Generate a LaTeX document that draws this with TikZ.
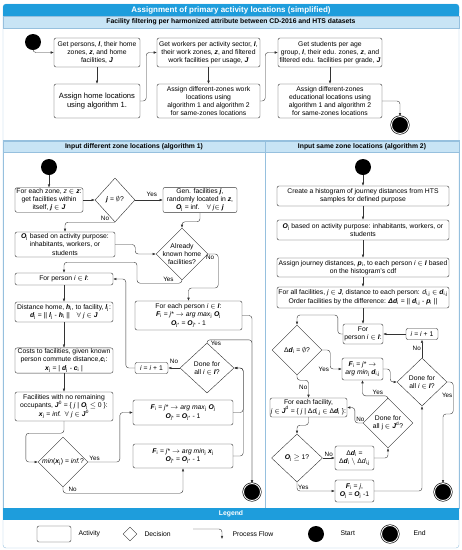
\documentclass[tikz,border=0pt]{standalone}
\usepackage{fontspec}
\setmainfont{Liberation Sans}
\usepackage{amssymb}
\usetikzlibrary{calc,arrows.meta,shapes.geometric,positioning}
\definecolor{barblue}{RGB}{30,157,220}
\definecolor{headblue}{RGB}{200,228,245}
\definecolor{lineblue}{RGB}{150,192,222}
\newcommand{\vb}[1]{\textbf{\textit{#1}}}
\newcommand{\sub}[1]{\textsubscript{#1}}

\begin{document}
\begin{tikzpicture}[x=1pt,y=-1pt,
  >={Latex[length=3.2pt,width=2.6pt]},
  every node/.style={font=\fontsize{6.8}{8.1}\selectfont},
  act/.style={draw=black!80,rounded corners=2pt,align=center,inner sep=1pt},
  dec/.style={draw=black!80,diamond,aspect=1,align=center,inner sep=-3pt},
  flow/.style={->,draw=black!80,rounded corners=3pt},
  lbl/.style={font=\fontsize{6.3}{7}\selectfont,inner sep=1pt},
  startdot/.style={circle,fill=black,minimum size=16pt,inner sep=0pt},
  enddot/.style={circle,fill=black,draw=black,double=white,double distance=0.9pt,
    line width=0.6pt,minimum size=17pt,inner sep=0pt},
  bar/.style={fill=barblue,text=white,inner sep=0pt,font=\bfseries\fontsize{8}{9}\selectfont},
  head/.style={fill=headblue,draw=lineblue,inner sep=0pt,font=\bfseries\fontsize{6.8}{8}\selectfont}]
  \useasboundingbox (0,0) rectangle (462,550);
  \draw[lineblue,rounded corners=3pt] (3,4) rectangle (459,548);
  \fill[barblue,rounded corners=3pt] (3,4) rectangle (459,16);
  \fill[barblue] (3,10) rectangle (459,16);
  \node[bar] (title) at (231,10) {Assignment of primary activity locations (simplified)};
  \node[head,minimum width=456pt,minimum height=12pt] (subtitle) at (231,22)
  {Facility filtering per harmonized attribute between CD-2016 and HTS datasets};
  \draw[lineblue] (3,140) rectangle (265,508);
  \draw[lineblue] (265,140) rectangle (459,508);
  \node[head,minimum width=262pt,minimum height=11pt] (alg1) at (134,146.5)
  {Input different zone locations (algorithm 1)};
  \node[head,minimum width=194pt,minimum height=11pt] (alg2) at (362,146.5)
  {Input same zone locations (algorithm 2)};

  \node[startdot] (s0) at (33,42) {};
  \node[act,minimum width=86pt,minimum height=29pt] (persons) at (97,52.5)
  {Get persons, \vb{I}, their home\\zones, \vb{z}, and home\\facilities, \vb{J}};
  \node[act,minimum width=86pt,minimum height=34pt,font=\fontsize{7.6}{9.3}\selectfont]
  (homes) at (97,101) {Assign home locations\\using algorithm 1.};
  \node[act,minimum width=103pt,minimum height=29pt] (workers) at (208.5,52.5)
  {Get workers per activity sector, \vb{I},\\their work zones, \vb{z}, and filtered\\work facilities per usage, \vb{J}};
  \node[act,minimum width=103pt,minimum height=34pt] (works) at (208.5,101)
  {Assign different-zones work\\locations using\\algorithm 1 and algorithm 2\\for same-zones locations};
  \node[act,minimum width=104pt,minimum height=29pt] (students) at (330,52.5)
  {Get students per age\\group, \vb{I}, their edu. zones, \vb{z}, and\\filtered edu. facilities per grade, \vb{J}};
  \node[act,minimum width=104pt,minimum height=34pt] (edus) at (330,101)
  {Assign different-zones\\educational locations using\\algorithm 1 and algorithm 2\\for same-zones locations};
  \node[enddot] (e0) at (400,125) {};
  \draw[flow] (s0) |- (persons);
  \draw[flow] (persons) -- (homes);
  \draw[flow] (homes.east) -- ++(6,0) |- (workers.west);
  \draw[flow] (workers) -- (works);
  \draw[flow] (works.east) -- ++(5,0) |- (students.west);
  \draw[flow] (students) -- (edus);
  \draw[flow] (edus.east) -| (e0.north);

  \node[startdot] (s1) at (49,167) {};
  \node[act,minimum width=68pt,minimum height=24pt] (zone) at (49,200)
  {For each zone, \textit{z} $\in$ \vb{z}:\\get facilities within\\itself, \vb{j} $\in$ \vb{J}};
  \node[dec,minimum width=40pt,minimum height=44pt] (isnull) at (115,200)
  {\vb{j} = $\emptyset$?};
  \node[act,minimum width=74pt,minimum height=24pt] (gen) at (200,200)
  {Gen. facilities \vb{j},\\randomly located in \vb{z},\\\vb{O}\sub{j} = inf.\quad $\forall$ \textit{j}$\in$ \vb{j}};
  \node[act,minimum width=100pt,minimum height=25pt] (purpose) at (65,244.5)
  {\vb{O}\sub{j} based on activity purpose:\\inhabitants, workers, or\\students};
  \node[dec,minimum width=52pt,minimum height=52pt] (known) at (182,254)
  {Already\\known home\\facilities?};
  \node[act,minimum width=98pt,minimum height=12pt] (person) at (64,279)
  {For person \textit{i} $\in$ \vb{I}:};
  \node[act,minimum width=107pt,minimum height=29pt] (eachp) at (188.5,315.5)
  {For each person \textit{i} $\in$ \vb{I}:\\\vb{F}\sub{i} = \textit{j}* $\rightarrow$ \textit{arg max}\sub{j} \vb{O}\sub{j}\\\vb{O}\sub{j*} = \vb{O}\sub{j*} - 1};
  \node[act,minimum width=98pt,minimum height=20pt] (dist) at (64,312)
  {Distance home, \vb{h}\sub{i}, to facility, \vb{l}\sub{j}:\\\vb{d}\sub{j} = || \vb{l}\sub{j} - \vb{h}\sub{i} ||\quad $\forall$ \textit{j} $\in$ \vb{J}};
  \node[act,minimum width=98pt,minimum height=25pt] (costs) at (64,360.5)
  {Costs to facilities, given known\\person commute distance,\vb{c}\sub{i}:\\\vb{x}\sub{j} = | \vb{d}\sub{j} - \vb{c}\sub{i} |};
  \node[dec,minimum width=54pt,minimum height=50pt] (done) at (207,368)
  {Done for\\all \textit{i} $\in$ \vb{I}?};
  \node[act,minimum width=33pt,minimum height=11pt] (incr) at (151.5,368)
  {\textit{i} = \textit{i} + 1};
  \node[act,minimum width=98pt,minimum height=29pt] (nofac) at (64,406.5)
  {Facilities with no remaining\\occupants, \vb{J}\textsuperscript{0} = \{ \textit{j} | \vb{O}\sub{j} $\leq$ 0 \}:\\\vb{x}\sub{j} = \textit{inf.}\enspace$\forall$ \textit{j} $\in$ \vb{J}\textsuperscript{0}};
  \node[dec,minimum width=50pt,minimum height=50pt] (mininf) at (63,462)
  {\textit{min}(\vb{x}\sub{j}) = \textit{inf.}?};
  \node[act,minimum width=100pt,minimum height=25pt] (argmax) at (183,412.5)
  {\vb{F}\sub{i} = \textit{j}* $\rightarrow$ \textit{arg max}\sub{j} \vb{O}\sub{j}\\\vb{O}\sub{j*} = \vb{O}\sub{j*} - 1};
  \node[act,minimum width=100pt,minimum height=24pt] (argmin) at (183,456)
  {\vb{F}\sub{i} = \textit{j}* $\rightarrow$ \textit{arg min}\sub{j} \vb{x}\sub{j}\\\vb{O}\sub{j*} = \vb{O}\sub{j*} - 1};
  \node[enddot] (e1) at (252,492) {};
  \draw[flow] (s1) -- (zone);
  \draw[flow] (zone) -- (isnull);
  \draw[flow] (isnull) -- (gen) node[lbl,pos=0.6,above=2pt]{Yes};
  \draw[flow] (isnull.south) -| (purpose.north) node[lbl,pos=0.1,above]{No};
  \draw[flow] (gen.south) -- ++(0,9) -| (known.north);
  \draw[flow] (purpose.east) -- ++(20,0) |- (known.west);
  \draw[flow] (known.south) -- ++(0,3) -| ++(-45,-21) node[lbl,pos=0.15,above]{Yes}
  -| (person.north);
  \draw[flow] (known.east) -| ++(10,34) node[lbl,pos=0.1,below]{No} -| (eachp.north);
  \draw[flow] (person) -- (dist);
  \draw[flow] (dist) -- (costs);
  \draw[flow] (costs) -- (nofac);
  \draw[flow] (nofac.south) -- ++(0,12) -| ($(mininf.west)+(-12,0)$) -- (mininf.west);
  \draw[flow] (mininf.east) -| ($(argmax.west)+(-13,0)$) node[lbl,pos=0.1,above]{Yes}
  -- (argmax.west);
  \draw[flow] (mininf.south) -- ++(0,6) -| (argmin.south) node[lbl,pos=0.04,above]{No};
  \draw[flow] (eachp.east) -| (e1.north);
  \draw[flow] (done.north) -- ++(0,-3) -| (e1.north) node[lbl,pos=0.1,below]{Yes};
  \draw[flow] (argmax.east) -- ++(10,0) |- (done.east);
  \draw[flow] (argmin.east) -- ++(10,0) |- (done.east);
  \draw[flow] (done.west) -- (incr.east) node[lbl,midway,above=3pt]{No};
  \draw[flow] (incr.west) -- ++(-9,0) |- (person.east);

  \node[startdot] (s2) at (363,167) {};
  \node[act,minimum width=172pt,minimum height=20pt] (hist) at (363,196)
  {Create a histogram of journey distances from HTS\\samples for defined purpose};
  \node[act,minimum width=172pt,minimum height=20pt] (purpose2) at (363,230)
  {\vb{O}\sub{j} based on activity purpose: inhabitants, workers, or\\students};
  \node[act,minimum width=172pt,minimum height=19pt] (journey) at (363,267.5)
  {Assign journey distances, \vb{p}\sub{i}, to each person \textit{i} $\in$ \vb{I} based\\on the histogram's cdf};
  \node[act,minimum width=172pt,minimum height=21pt] (allfac) at (363,297.5)
  {For all facilities, \textit{j} $\in$ \vb{J}, distance to each person: \textit{d}\sub{i,j} $\in$ \vb{d}\sub{i,j}\\Order facilities by the difference: \vb{Δd}\sub{i} = || \vb{d}\sub{i,j} - \vb{p}\sub{i} ||};
  \node[act,minimum width=40pt,minimum height=20pt] (person2) at (363,334)
  {For\\person \textit{i} $\in$ \vb{I}:};
  \node[act,minimum width=32pt,minimum height=11pt] (incr2) at (422,334)
  {\textit{i} = \textit{i} + 1};
  \node[dec,minimum width=50pt,minimum height=50pt] (dnull) at (297,350)
  {Δ\vb{d}\sub{i} = $\emptyset$?};
  \node[act,minimum width=41pt,minimum height=22pt] (argmin2) at (362.5,369)
  {\vb{F}\sub{i} = \textit{j}* $\rightarrow$\\\textit{arg min}\sub{j} \vb{d}\sub{i,j}};
  \node[dec,minimum width=50pt,minimum height=48pt] (done2) at (422,382)
  {Done for\\all \textit{i} $\in$ \vb{I}?};
  \node[act,minimum width=73pt,minimum height=19pt] (eachf) at (308.5,407.5)
  {For each facility,\\\textit{j} $\in$ \vb{J}\textsuperscript{d} = \{ \textit{j} | Δ\textit{d}\sub{i,j} $\in$ Δ\vb{d}\sub{i} \}:};
  \node[dec,minimum width=50pt,minimum height=50pt] (donej) at (388,423)
  {Done for\\all j $\in$ \vb{J}\textsuperscript{d}?};
  \node[dec,minimum width=51pt,minimum height=48pt] (occ) at (297,458)
  {\vb{O}\sub{j} $\geq$ 1?};
  \node[act,minimum width=39pt,minimum height=24pt] (drop) at (354.5,458)
  {Δ\vb{d}\sub{i} =\\Δ\vb{d}\sub{i} $\setminus$ Δ\textit{d}\sub{i,j}};
  \node[act,minimum width=39pt,minimum height=22pt] (take) at (354.5,491)
  {\vb{F}\sub{i} = \textit{j},\\\vb{O}\sub{j} = \vb{O}\sub{j} -1};
  \node[enddot] (e2) at (443,492) {};
  \draw[flow] (s2) -- (hist);
  \draw[flow] (hist) -- (purpose2);
  \draw[flow] (purpose2) -- (journey);
  \draw[flow] (journey) -- (allfac);
  \draw[flow] (allfac) -- (person2);
  \draw[flow] (incr2) -- (person2);
  \draw[flow] (person2.west) -- ++(-5,0) -- ++(0,-19) -| (dnull.north);
  \draw[flow] (dnull.east) -- ++(8,0) |- (argmin2.west) node[lbl,pos=0.5,left]{Yes};
  \draw[flow] (dnull.south) -- ++(0,5) -| (eachf.north) node[lbl,pos=0.7,left]{No};
  \draw[flow] (argmin2.east) -- ++(7,0) |- (done2.west);
  \draw[flow] (done2.north) -- (incr2.south) node[lbl,midway,left]{No};
  \draw[flow] (done2.east) -- ++(6,0) node[lbl,pos=0,below=10pt]{Yes} -- ++(0,32) -| (e2.north);
  \draw[flow] (eachf.south) -- ++(0,8) -| (occ.north);
  \draw[flow] (occ.east) -- (drop.west) node[lbl,midway,above]{No};
  \draw[flow] (occ.south) |- (take.west) node[lbl,pos=0.5,above right]{Yes};
  \draw[flow] (drop.east) -| (donej.south);
  \draw[flow] (take.east) -| (done2.south);
  \draw[flow] (donej.north) -- ++(0,-2) -| (argmin2.south) node[lbl,pos=0.2,above]{Yes};
  \draw[flow] (donej.west) -- ++(-8,0) node[lbl,pos=0.3,above]{No} |- (eachf.east);

  \node[bar,minimum width=456pt,minimum height=12pt,font=\bfseries\fontsize{6.8}{8}\selectfont]
  (legend) at (231,514) {Legend};
  \node[act,minimum width=34pt,minimum height=16pt] (lact) at (54,534) {};
  \node[anchor=west] (lacttext) at (75,534) {Activity};
  \node[dec,minimum width=14pt,minimum height=14pt] (ldec) at (130,534) {};
  \node[anchor=west] (ldectext) at (141,534) {Decision};
  \coordinate (lflowa) at (193,529);
  \coordinate (lflowb) at (222,539);
  \draw[flow] (lflowa) -| (lflowb);
  \node[anchor=west] (lflowtext) at (229,534) {Process Flow};
  \node[startdot] (lstart) at (316,534) {};
  \node[anchor=west] (lstarttext) at (337,533) {Start};
  \node[enddot] (lend) at (390,534) {};
  \node[anchor=west] (lendtext) at (410,533) {End};
\end{tikzpicture}
\end{document}
